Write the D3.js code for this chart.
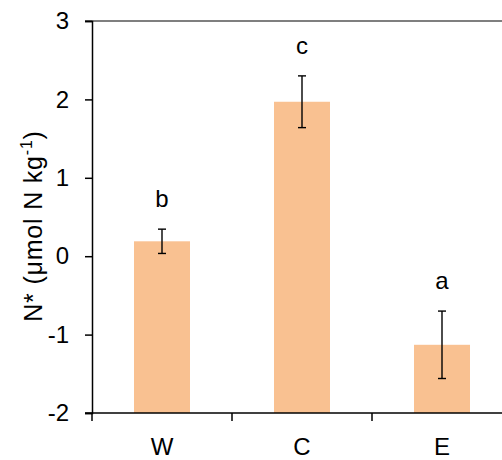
<!DOCTYPE html>
<html>
<head>
<meta charset="utf-8">
<script src="https://cdn.jsdelivr.net/npm/d3@7"></script>
<style>
  html, body { margin: 0; padding: 0; background: #fff; }
  svg { display: block; }
  text { font-family: "Liberation Sans", Arial, sans-serif; fill: #000; }
</style>
</head>
<body>
<svg id="chart" width="502" height="460"></svg>
<script>
const categories = ["W", "C", "E"];
const means = [0.19, 1.97, -1.13];
const errors = [0.155, 0.33, 0.43];
const letters = ["b", "c", "a"];
const yTicks = [-2, -1, 0, 1, 2, 3];

const svg = d3.select("#chart");
const mLeft = 92, mTop = 21, mBottom = 413, step = 140;
const fontSize = 24;

const x = d3.scaleBand().domain(categories).range([mLeft, mLeft + step * categories.length]).padding(0);
const y = d3.scaleLinear().domain([-2, 3]).range([mBottom, mTop]);
const barW = x.bandwidth() * 0.4;

// top grey frame line
svg.append("line")
  .attr("x1", mLeft - 7).attr("x2", 502)
  .attr("y1", y(3)).attr("y2", y(3))
  .attr("stroke", "#555").attr("stroke-width", 1.6);

// bars
svg.selectAll("rect.bar").data(categories).join("rect")
  .attr("class", "bar")
  .attr("x", (d) => x(d) + (x.bandwidth() - barW) / 2)
  .attr("width", barW)
  .attr("y", (d, i) => y(means[i]))
  .attr("height", (d, i) => y(-2) - y(means[i]))
  .attr("fill", "#F9C191");

// error bars
const eg = svg.append("g").attr("stroke", "#000").attr("stroke-width", 1.4);
categories.forEach((c, i) => {
  const cx = x(c) + x.bandwidth() / 2;
  const hi = y(means[i] + errors[i]), lo = y(means[i] - errors[i]);
  eg.append("line").attr("x1", cx).attr("x2", cx).attr("y1", hi).attr("y2", lo);
  eg.append("line").attr("x1", cx - 4).attr("x2", cx + 4).attr("y1", hi).attr("y2", hi);
  eg.append("line").attr("x1", cx - 4).attr("x2", cx + 4).attr("y1", lo).attr("y2", lo);
});

// significance letters
svg.selectAll("text.sig").data(categories).join("text")
  .attr("class", "sig")
  .attr("x", (d) => x(d) + x.bandwidth() / 2)
  .attr("y", (d, i) => y(means[i] + errors[i]) - 22)
  .attr("text-anchor", "middle")
  .style("font-size", fontSize + "px")
  .text((d, i) => letters[i]);

// y axis
const yAxis = d3.axisLeft(y).tickValues(yTicks).tickSize(7).tickPadding(16).tickFormat((d) => String(d));
const yg = svg.append("g").attr("transform", `translate(${mLeft},0)`).call(yAxis);
yg.select(".domain").attr("stroke", "#000").attr("stroke-width", 1.5);
yg.selectAll(".tick line").attr("stroke", "#000").attr("stroke-width", 1.5);
yg.selectAll(".tick text").style("font-size", fontSize + "px").style("font-family", "Liberation Sans, Arial, sans-serif").attr("fill", "#000");

// x axis (ticks at category boundaries)
const xg = svg.append("g").attr("transform", `translate(0,${mBottom})`);
xg.append("line").attr("x1", mLeft - 7).attr("x2", 502).attr("y1", 0).attr("y2", 0)
  .attr("stroke", "#000").attr("stroke-width", 1.5);
xg.selectAll("line.xt").data(categories).join("line")
  .attr("class", "xt")
  .attr("x1", (d) => x(d)).attr("x2", (d) => x(d))
  .attr("y1", 0).attr("y2", 8)
  .attr("stroke", "#000").attr("stroke-width", 1.5);
xg.selectAll("text.xl").data(categories).join("text")
  .attr("class", "xl")
  .attr("x", (d) => x(d) + x.bandwidth() / 2)
  .attr("y", 42)
  .attr("text-anchor", "middle")
  .style("font-size", fontSize + "px")
  .text((d) => d);

// y axis title
const t = svg.append("text")
  .attr("transform", `translate(42,226) rotate(-90)`)
  .attr("text-anchor", "middle")
  .style("font-size", "25px")
  .style("letter-spacing", "0.8px");
t.append("tspan").text("N* (μmol N kg");
t.append("tspan").attr("dy", -10).style("font-size", "16px").text("-1");
t.append("tspan").attr("dy", 10).text(")");
</script>
</body>
</html>
